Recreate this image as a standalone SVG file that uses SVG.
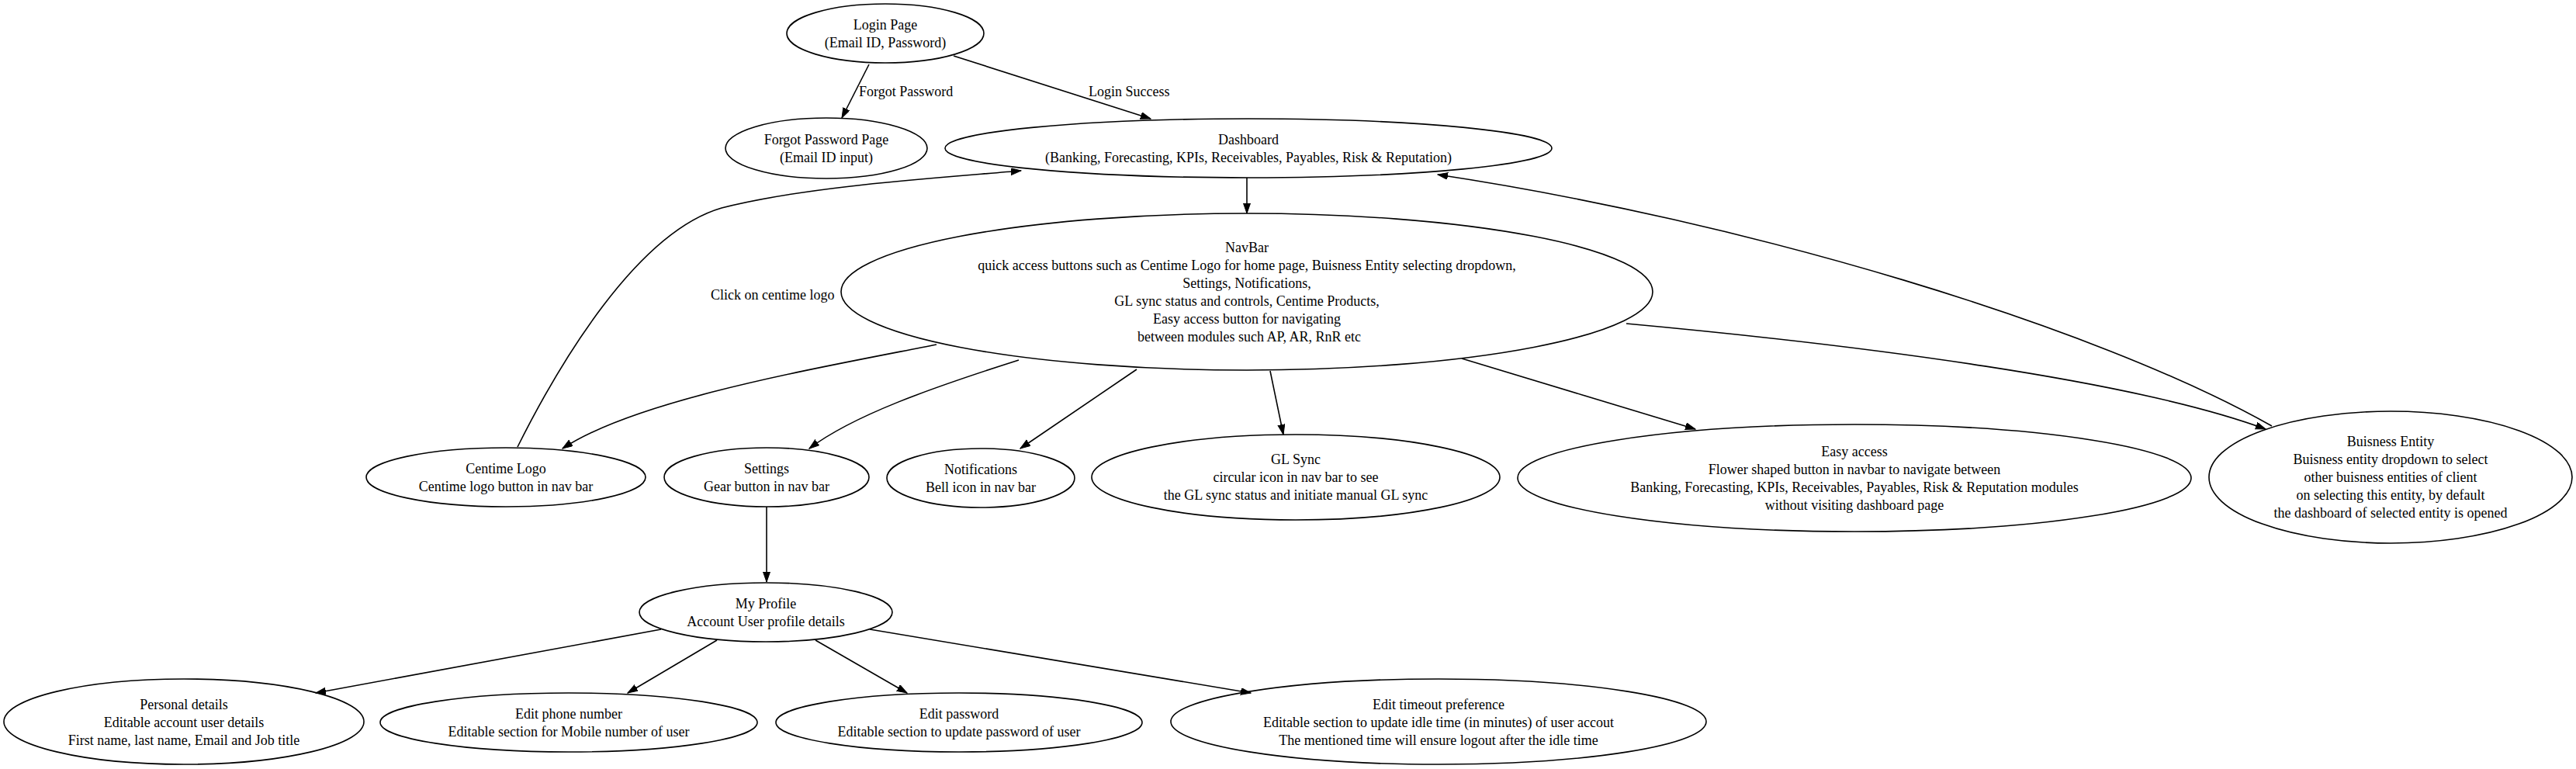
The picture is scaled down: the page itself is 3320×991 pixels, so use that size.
<svg xmlns="http://www.w3.org/2000/svg" width="3320" height="991" viewBox="0 0 3320 991">
<style>
ellipse{fill:none;stroke:#000;stroke-width:1.6}
text{font-family:"Liberation Serif","Times New Roman",serif;font-size:18px;fill:#000;text-anchor:middle}
.lbl{text-anchor:start}
.e{fill:none;stroke:#000;stroke-width:1.6;marker-end:url(#ah)}
</style>
<defs>
<marker id="ah" markerUnits="userSpaceOnUse" markerWidth="14" markerHeight="10" refX="13" refY="4.5" orient="auto">
<path d="M0,0 L13,4.5 L0,9 z" fill="#000" stroke="#000" stroke-width="1"/>
</marker>
</defs>
<rect width="3320" height="991" fill="#fff"/>
<g id="edges">
<path class="e" d="M1120,83 L1085,152"/>
<text class="lbl" x="1107" y="124">Forgot Password</text>
<path class="e" d="M1229,72 L1483,153"/>
<text class="lbl" x="1403" y="124">Login Success</text>
<path class="e" d="M1607,229 L1607,275"/>
<path class="e" d="M667,576 C720,470 820,300 930,268 C1040,240 1200,230 1316,220"/>
<text class="lbl" x="916" y="386">Click on centime logo</text>
<path class="e" d="M1207,444 C1050,475 820,515 725,578"/>
<path class="e" d="M1313,464 C1200,500 1100,535 1043,578"/>
<path class="e" d="M1465,476 L1315,578"/>
<path class="e" d="M1637,478 L1654,560"/>
<path class="e" d="M1884,462 L2185,553"/>
<path class="e" d="M2096,417 C2400,445 2750,490 2920,553"/>
<path class="e" d="M2928,549 C2700,420 2250,285 1853,225"/>
<path class="e" d="M988,653 L988,750"/>
<path class="e" d="M852,811 L407,893"/>
<path class="e" d="M924,825 L809,893"/>
<path class="e" d="M1051,825 L1169,893"/>
<path class="e" d="M1121,811 L1612,893"/>
</g>
<g id="login"><ellipse cx="1141" cy="43" rx="127" ry="38"/><text x="1141" y="37.5">Login Page<tspan x="1141" dy="23">(Email ID, Password)</tspan></text></g>
<g id="forgot"><ellipse cx="1065" cy="191" rx="130" ry="39"/><text x="1065" y="185.5">Forgot Password Page<tspan x="1065" dy="23">(Email ID input)</tspan></text></g>
<g id="dashboard"><ellipse cx="1609" cy="191" rx="391" ry="38"/><text x="1609" y="185.5">Dashboard<tspan x="1609" dy="23">(Banking, Forecasting, KPIs, Receivables, Payables, Risk &amp; Reputation)</tspan></text></g>
<g id="navbar"><ellipse cx="1607" cy="376" rx="523" ry="101"/><text x="1607" y="324.5">NavBar<tspan x="1607" dy="23">quick access buttons such as Centime Logo for home page, Buisness Entity selecting dropdown,</tspan><tspan x="1607" dy="23">Settings, Notifications,</tspan><tspan x="1607" dy="23">GL sync status and controls, Centime Products,</tspan><tspan x="1607" dy="23">Easy access button for navigating</tspan><tspan x="1610" dy="23">between modules such AP, AR, RnR etc</tspan></text></g>
<g id="centime"><ellipse cx="652" cy="615" rx="180" ry="38"/><text x="652" y="609.5">Centime Logo<tspan x="652" dy="23">Centime logo button in nav bar</tspan></text></g>
<g id="settings"><ellipse cx="988" cy="615" rx="132" ry="38"/><text x="988" y="609.5">Settings<tspan x="988" dy="23">Gear button in nav bar</tspan></text></g>
<g id="notifications"><ellipse cx="1264" cy="616" rx="121" ry="38"/><text x="1264" y="610.5">Notifications<tspan x="1264" dy="23">Bell icon in nav bar</tspan></text></g>
<g id="glsync"><ellipse cx="1670" cy="615" rx="263" ry="55"/><text x="1670" y="598">GL Sync<tspan x="1670" dy="23">circular icon in nav bar to see</tspan><tspan x="1670" dy="23">the GL sync status and initiate manual GL sync</tspan></text></g>
<g id="easyaccess"><ellipse cx="2390" cy="616" rx="434" ry="69"/><text x="2390" y="587.5">Easy access<tspan x="2390" dy="23">Flower shaped button in navbar to navigate between</tspan><tspan x="2390" dy="23">Banking, Forecasting, KPIs, Receivables, Payables, Risk &amp; Reputation modules</tspan><tspan x="2390" dy="23">without visiting dashboard page</tspan></text></g>
<g id="business"><ellipse cx="3081" cy="615" rx="234" ry="85"/><text x="3081" y="575">Buisness Entity<tspan x="3081" dy="23">Buisness entity dropdown to select</tspan><tspan x="3081" dy="23">other buisness entities of client</tspan><tspan x="3081" dy="23">on selecting this entity, by default</tspan><tspan x="3081" dy="23">the dashboard of selected entity is opened</tspan></text></g>
<g id="myprofile"><ellipse cx="987" cy="789" rx="163" ry="38"/><text x="987" y="783.5">My Profile<tspan x="987" dy="23">Account User profile details</tspan></text></g>
<g id="personal"><ellipse cx="237" cy="930" rx="232" ry="55"/><text x="237" y="914">Personal details<tspan x="237" dy="23">Editable account user details</tspan><tspan x="237" dy="23">First name, last name, Email and Job title</tspan></text></g>
<g id="phone"><ellipse cx="733" cy="931" rx="243" ry="38"/><text x="733" y="925.5">Edit phone number<tspan x="733" dy="23">Editable section for Mobile number of user</tspan></text></g>
<g id="password"><ellipse cx="1236" cy="931" rx="236" ry="38"/><text x="1236" y="925.5">Edit password<tspan x="1236" dy="23">Editable section to update password of user</tspan></text></g>
<g id="timeout"><ellipse cx="1854" cy="930" rx="345" ry="55"/><text x="1854" y="914">Edit timeout preference<tspan x="1854" dy="23">Editable section to update idle time (in minutes) of user accout</tspan><tspan x="1854" dy="23">The mentioned time will ensure logout after the idle time</tspan></text></g>
</svg>
